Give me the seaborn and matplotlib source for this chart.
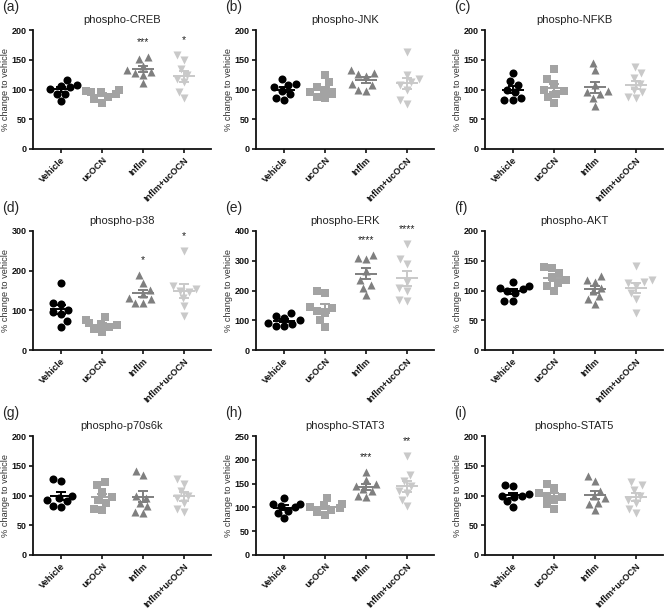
import matplotlib
matplotlib.use("Agg")
import matplotlib.pyplot as plt
import numpy as np
import pandas as pd
import seaborn as sns

GROUPS = ["Vehicle", "ucOCN", "Inflm", "Inflm+ucOCN"]
MARKERS = ["o", "s", "^", "v"]
COLORS = ["#000000", "#a3a3a3", "#7f7f7f", "#c9c9c9"]

# % change to vehicle, 8 animals per group (Vehicle, ucOCN, Inflm, Inflm+ucOCN)
creb = [[116, 108, 106, 104, 101, 93, 93, 81],
        [100, 98, 96, 95, 92, 88, 84, 78],
        [155, 152, 140, 133, 130, 128, 125, 111],
        [158, 150, 135, 125, 118, 112, 95, 85]]
jnk = [[118, 110, 108, 104, 98, 92, 85, 82],
       [125, 112, 104, 100, 95, 92, 88, 85],
       [133, 128, 126, 122, 110, 108, 100, 98],
       [163, 125, 118, 112, 108, 100, 82, 75]]
nfkb = [[128, 115, 108, 100, 95, 85, 82, 82],
        [135, 118, 110, 100, 98, 92, 88, 78],
        [145, 132, 108, 98, 95, 92, 85, 72],
        [137, 128, 120, 110, 100, 95, 88, 85]]
p38 = [[168, 118, 116, 102, 96, 90, 72, 58],
       [82, 75, 68, 65, 62, 58, 52, 45],
       [188, 170, 152, 140, 132, 128, 118, 118],
       [250, 162, 155, 150, 145, 130, 110, 85]]
erk = [[125, 115, 108, 100, 92, 88, 82, 80],
       [198, 192, 145, 140, 130, 125, 100, 78],
       [320, 310, 305, 265, 235, 220, 210, 185],
       [355, 305, 290, 230, 210, 200, 168, 165]]
akt = [[115, 108, 105, 102, 100, 95, 82, 82],
       [140, 138, 130, 122, 118, 112, 108, 100],
       [125, 117, 115, 105, 100, 90, 85, 78],
       [142, 118, 115, 112, 108, 95, 85, 62]]
p70s6k = [[128, 124, 100, 96, 92, 90, 82, 80],
          [123, 117, 106, 97, 92, 88, 78, 76],
          [142, 135, 100, 96, 88, 82, 72, 70],
          [127, 120, 107, 100, 95, 88, 78, 72]]
stat3 = [[120, 108, 107, 103, 100, 92, 88, 77],
         [120, 108, 104, 100, 98, 95, 90, 84],
         [175, 158, 150, 145, 138, 135, 125, 122],
         [208, 168, 155, 145, 135, 130, 115, 102]]
stat5 = [[117, 116, 102, 100, 100, 98, 90, 80],
         [120, 112, 105, 100, 98, 92, 85, 78],
         [132, 125, 108, 100, 95, 88, 85, 75],
         [122, 117, 110, 100, 92, 88, 78, 70]]

creb_stars = ["", "", "***", "*"]
p38_stars = ["", "", "*", "*"]
erk_stars = ["", "", "****", "****"]
stat3_stars = ["", "", "***", "**"]
no_stars = ["", "", "", ""]

PANELS = [
    ("(a)", "phospho-CREB", creb, creb_stars, 200, 50),
    ("(b)", "phospho-JNK", jnk, no_stars, 200, 50),
    ("(c)", "phospho-NFKB", nfkb, no_stars, 200, 50),
    ("(d)", "phospho-p38", p38, p38_stars, 300, 100),
    ("(e)", "phospho-ERK", erk, erk_stars, 400, 100),
    ("(f)", "phospho-AKT", akt, no_stars, 200, 50),
    ("(g)", "phospho-p70s6k", p70s6k, no_stars, 200, 50),
    ("(h)", "phospho-STAT3", stat3, stat3_stars, 250, 50),
    ("(i)", "phospho-STAT5", stat5, no_stars, 200, 50),
]

W, H = 667, 609
COL_LEFT = [33, 256, 485]
ROW_TOP = [30, 231, 436]
AX_W, AX_H = 178, 119

sns.set_style("ticks")
plt.rcParams["font.family"] = ["Liberation Sans", "DejaVu Sans"]


def draw_panel(ax, values, stars, ymax, step):
    df = pd.DataFrame({
        "group": np.repeat(GROUPS, [len(v) for v in values]),
        "value": np.concatenate(values),
    })
    for i, g in enumerate(GROUPS):
        sub = df[df["group"] == g]
        sns.swarmplot(data=sub, x="group", y="value", order=GROUPS,
                      marker=MARKERS[i], color=COLORS[i], size=5.8,
                      linewidth=0, ax=ax, zorder=2)
        m = sub["value"].mean()
        sem = sub["value"].std(ddof=1) / np.sqrt(len(sub))
        ax.hlines(m, i - 0.27, i + 0.27, color=COLORS[i], lw=1.4, zorder=3)
        ax.vlines(i, m - sem, m + sem, color=COLORS[i], lw=1.4, zorder=3)
        ax.hlines([m - sem, m + sem], i - 0.12, i + 0.12, color=COLORS[i], lw=1.4, zorder=3)
        if stars[i]:
            ax.text(i, sub["value"].max() + 0.125 * ymax, stars[i], ha="center",
                    va="center", fontsize=7.5, color="#222222")

    ax.set_xlim(-0.68, 3.65)
    ax.set_ylim(0, ymax)
    ax.set_yticks(np.arange(0, ymax + 1, step))
    ax.set_xticks(range(len(GROUPS)))
    ax.set_xticklabels(GROUPS, rotation=45, ha="right", rotation_mode="anchor",
                       fontsize=6.6, fontweight="bold")
    for lab in ax.get_yticklabels():
        lab.set_fontsize(6.5)
        lab.set_fontweight("bold")
    ax.set_xlabel("")
    ax.set_ylabel("% change to vehicle", fontsize=6.7, color="#333333", labelpad=1.5)
    sns.despine(ax=ax)
    for side in ("left", "bottom"):
        ax.spines[side].set_linewidth(1.3)
        ax.spines[side].set_color("#111111")
    ax.tick_params(axis="both", width=1.2, length=3, pad=1.5, colors="#111111")


fig = plt.figure(figsize=(W / 100, H / 100), dpi=100)
for k, (tag, title, values, stars, ymax, step) in enumerate(PANELS):
    r, c = divmod(k, 3)
    left = COL_LEFT[c] / W
    bottom = 1 - (ROW_TOP[r] + AX_H) / H
    ax = fig.add_axes([left, bottom, AX_W / W, AX_H / H])
    draw_panel(ax, values, stars, ymax, step)
    ax.set_title(title, fontsize=8, color="#222222", pad=5)
    fig.text((COL_LEFT[c] - 31) / W, 1 - (ROW_TOP[r] - 30) / H, tag,
             fontsize=10, ha="left", va="top")

fig.savefig("out.png", dpi=100)
